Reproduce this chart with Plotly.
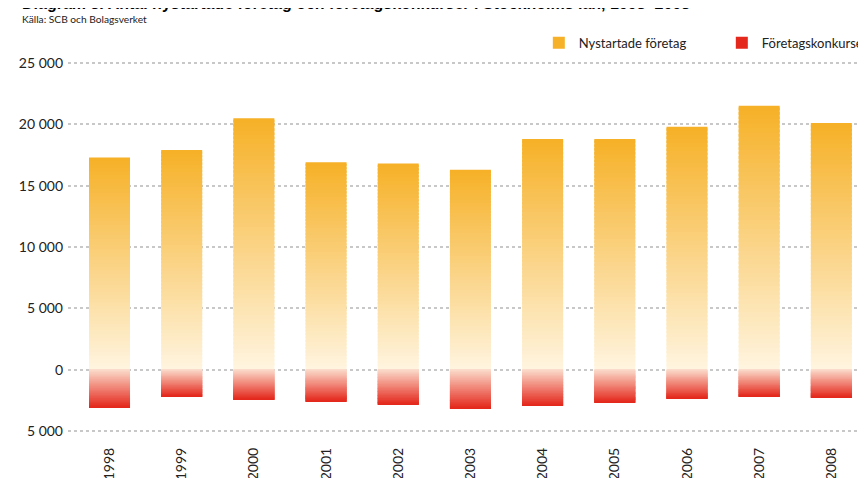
import plotly.graph_objects as go

years = [str(y) for y in range(1998, 2009)]
nystartade = [17300, 17900, 20500, 16900, 16800, 16300, 18800, 18800, 19800, 21500, 20100]
konkurser = [3100, 2200, 2450, 2600, 2850, 3180, 2940, 2690, 2370, 2200, 2280]

tick_vals = [-5000, 0, 5000, 10000, 15000, 20000, 25000]
tick_text = ["5 000", "0", "5 000", "10 000", "15 000", "20 000", "25 000"]

pos_light = (255, 244, 222)
pos_dark = (246, 177, 40)
neg_light = (251, 220, 204)
neg_dark = (228, 40, 28)

N = 60
FONT = "Lato"


def mix(c1, c2, t):
    return "rgb(%d,%d,%d)" % tuple(round(a + (b - a) * t) for a, b in zip(c1, c2))


fig = go.Figure()
bar_w = 0.568

# positive series: gradient from light (at zero) to dark (top)
for k in range(N):
    f0 = k / N
    f1 = min(1.0, (k + 1.6) / N)
    t = k / (N - 1)
    last = k == N - 1
    fig.add_trace(go.Bar(
        x=years,
        y=[v * (f1 - f0) for v in nystartade],
        base=[v * f0 for v in nystartade],
        width=bar_w,
        marker=dict(color=mix(pos_light, pos_dark, t), line=dict(width=0)),
        name="Nystartade företag",
        legendgroup="pos",
        showlegend=last,
        legendrank=1,
        hoverinfo="skip",
    ))

# negative series: gradient from light (at zero) to dark (bottom)
for k in range(N):
    f0 = k / N
    f1 = min(1.0, (k + 1.6) / N)
    t = k / (N - 1)
    last = k == N - 1
    fig.add_trace(go.Bar(
        x=years,
        y=[-v * (f1 - f0) for v in konkurser],
        base=[-v * f0 for v in konkurser],
        width=bar_w,
        marker=dict(color=mix(neg_light, neg_dark, t), line=dict(width=0)),
        name="Företagskonkurser",
        legendgroup="neg",
        showlegend=last,
        legendrank=2,
        hoverinfo="skip",
    ))

fig.update_layout(
    width=866,
    height=478,
    margin=dict(l=60, r=8, t=50, b=50, autoexpand=False),
    paper_bgcolor="white",
    plot_bgcolor="white",
    barmode="overlay",
    font=dict(family=FONT, size=13, color="#222"),
    legend=dict(
        orientation="h",
        x=0.59,
        xanchor="left",
        y=1.04,
        yanchor="middle",
        font=dict(size=13, color="#222"),
        entrywidth=138,
        entrywidthmode="pixels",
        bgcolor="rgba(0,0,0,0)",
        traceorder="normal",
    ),
    xaxis=dict(
        type="category",
        range=[-0.575, 10.48],
        showgrid=False,
        showline=False,
        zeroline=False,
        tickangle=-90,
        ticks="",
        ticklabelstandoff=8,
        tickfont=dict(size=14, color="#222"),
        automargin=False,
    ),
    yaxis=dict(
        range=[-5400, 25400],
        tickvals=tick_vals,
        ticktext=tick_text,
        showgrid=True,
        gridcolor="#c8c8c8",
        griddash="dot",
        gridwidth=2,
        zeroline=False,
        showline=False,
        ticks="",
        ticklabelstandoff=4,
        tickfont=dict(size=14, color="#222"),
        automargin=False,
    ),
    annotations=[
        dict(
            text="<b>Diagram 3. Antal nystartade företag och företagskonkurser i Stockholms län, 1998–2008</b>",
            xref="paper", yref="paper",
            x=(20 - 68) / 798, y=1.143,
            xanchor="left", yanchor="middle",
            showarrow=False,
            font=dict(family="Liberation Sans", size=16.0, color="#000"),
        ),
        dict(
            text="Källa: SCB och Bolagsverket",
            xref="paper", yref="paper",
            x=(20 - 68) / 798, y=1.104,
            xanchor="left", yanchor="middle",
            showarrow=False,
            font=dict(family=FONT, size=10.2, color="#222"),
        ),
    ],
)

fig.write_html("out.html")
